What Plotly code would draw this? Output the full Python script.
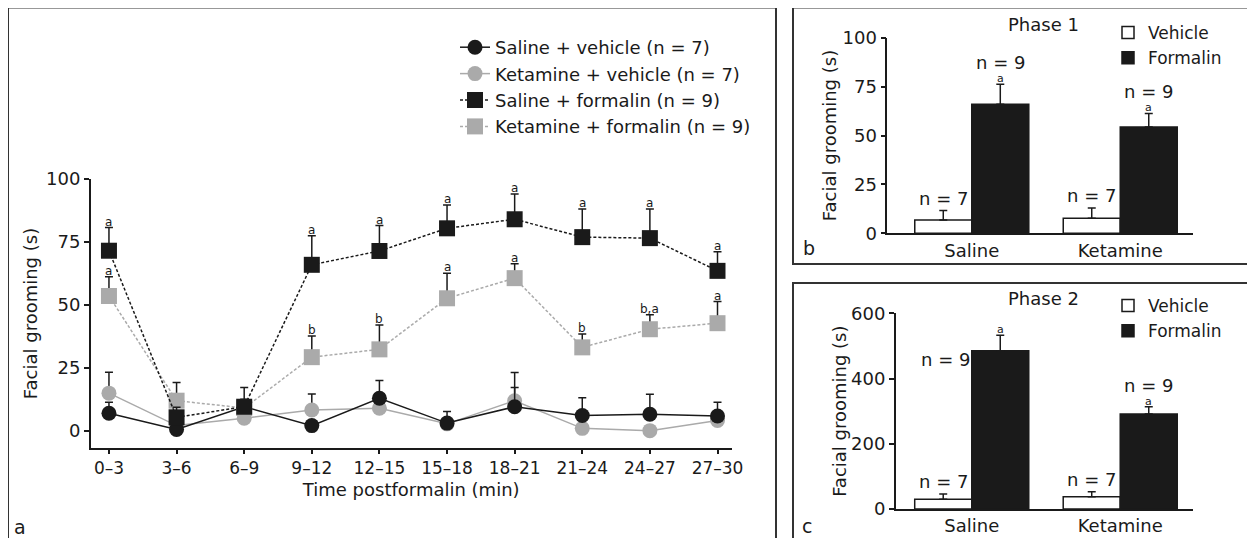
import plotly.graph_objects as go

# ---------------- data ----------------
time_bins = ["0–3", "3–6", "6–9", "9–12", "12–15", "15–18", "18–21", "21–24", "24–27", "27–30"]

saline_vehicle = [6.9, 0.5, 9.5, 2.0, 12.9, 3.0, 9.5, 6.0, 6.5, 5.8]
saline_vehicle_err = [4.4, 1.0, 3.0, 1.5, 7.0, 4.6, 7.6, 7.1, 8.0, 5.5]

ketamine_vehicle = [14.9, 2.0, 4.9, 8.2, 8.9, 2.7, 11.9, 0.9, 0.0, 4.0]
ketamine_vehicle_err = [8.3, 1.0, 1.5, 6.4, 2.0, 1.5, 11.2, 1.0, 1.0, 1.5]

saline_formalin = [71.5, 5.3, 9.5, 65.9, 71.4, 80.4, 84.0, 76.9, 76.5, 63.5]
saline_formalin_err = [9.2, 4.0, 7.6, 11.5, 10.1, 9.3, 10.0, 11.2, 11.6, 7.6]
saline_formalin_sig = ["a", "", "", "a", "a", "a", "a", "a", "a", "a"]

ketamine_formalin = [53.5, 11.9, 9.0, 29.2, 32.3, 52.6, 60.6, 33.1, 40.3, 42.7]
ketamine_formalin_err = [7.7, 7.2, 3.0, 8.4, 9.7, 9.9, 5.7, 5.3, 5.8, 8.6]
ketamine_formalin_sig = ["a", "", "", "b", "b", "a", "a", "b", "b,a", "a"]

groups = ["Saline", "Ketamine"]
phase1_vehicle = [6.8, 7.7]
phase1_vehicle_err = [4.8, 5.2]
phase1_formalin = [66.0, 54.3]
phase1_formalin_err = [10.2, 7.0]
phase2_vehicle = [29.7, 37.7]
phase2_vehicle_err = [16.3, 15.3]
phase2_formalin = [485.0, 291.0]
phase2_formalin_err = [48.0, 22.6]
n_vehicle = ["n = 7", "n = 7"]
n_formalin = ["n = 9", "n = 9"]
phase_sig = ["a", "a"]

# ---------------- style ----------------
FONT = "DejaVu Sans"
INK = "#1a1a1a"
GRAY = "#aaaaaa"
OFFSET = 8            # the page body margin shifts the figure by this much
W, H = 1255 - OFFSET, 538 - OFFSET


def px_x(p):
    return (p - OFFSET) / W


def px_y(p):
    return 1 - (p - OFFSET) / H


def up_err(e):
    return dict(type="data", symmetric=False, array=e, arrayminus=[0] * len(e),
                color=INK, thickness=1.5, width=4)


fig = go.Figure()

# draw order: gray circles, black circles, gray squares, black squares
series = [
    ("Ketamine + vehicle (n = 7)", ketamine_vehicle, ketamine_vehicle_err, GRAY, "circle", "solid", 15, 2),
    ("Saline + vehicle (n = 7)", saline_vehicle, saline_vehicle_err, INK, "circle", "solid", 15, 1),
    ("Ketamine + formalin (n = 9)", ketamine_formalin, ketamine_formalin_err, GRAY, "square", "3px,2px", 16, 4),
    ("Saline + formalin (n = 9)", saline_formalin, saline_formalin_err, INK, "square", "3px,2px", 16, 3),
]
for name, vals, err, col, sym, dash, size, rank in series:
    fig.add_trace(go.Scatter(
        x=time_bins, y=vals, name=name, mode="lines+markers",
        line=dict(color=col, width=1.5, dash=dash),
        marker=dict(symbol=sym, size=size, color=col),
        error_y=up_err(err), cliponaxis=False, legendrank=rank,
        xaxis="x", yaxis="y", legend="legend",
    ))

# bar panels
for xa, ya, lg, veh, veh_e, form, form_e in [
    ("x2", "y2", "legend2", phase1_vehicle, phase1_vehicle_err, phase1_formalin, phase1_formalin_err),
    ("x3", "y3", "legend3", phase2_vehicle, phase2_vehicle_err, phase2_formalin, phase2_formalin_err),
]:
    fig.add_trace(go.Bar(x=groups, y=veh, name="Vehicle", xaxis=xa, yaxis=ya, legend=lg,
                         marker=dict(color="white", line=dict(color=INK, width=1.5)),
                         error_y=up_err(veh_e)))
    fig.add_trace(go.Bar(x=groups, y=form, name="Formalin", xaxis=xa, yaxis=ya, legend=lg,
                         marker=dict(color=INK, line=dict(color=INK, width=1.5)),
                         error_y=up_err(form_e)))

annotations = []
# significance letters on main panel
for sig, vals, err in [(saline_formalin_sig, saline_formalin, saline_formalin_err),
                       (ketamine_formalin_sig, ketamine_formalin, ketamine_formalin_err)]:
    for t, v, e, s in zip(time_bins, vals, err, sig):
        if s:
            annotations.append(dict(x=t, y=v + e, xref="x", yref="y", text=s, showarrow=False,
                                    xanchor="center", yanchor="bottom", yshift=-3,
                                    font=dict(size=12, color=INK)))

# bar annotations
OFF = 0.192
for xa, ya, veh, veh_e, form, form_e, panel in [
    ("x2", "y2", phase1_vehicle, phase1_vehicle_err, phase1_formalin, phase1_formalin_err, "b"),
    ("x3", "y3", phase2_vehicle, phase2_vehicle_err, phase2_formalin, phase2_formalin_err, "c"),
]:
    for i in range(len(groups)):
        annotations.append(dict(x=i - OFF, y=veh[i] + veh_e[i], xref=xa, yref=ya, text=n_vehicle[i],
                                showarrow=False, xanchor="center", yanchor="bottom", yshift=0,
                                font=dict(size=18, color=INK)))
        annotations.append(dict(x=i + OFF, y=form[i] + form_e[i], xref=xa, yref=ya, text=phase_sig[i],
                                showarrow=False, xanchor="center", yanchor="bottom", yshift=-3,
                                font=dict(size=11, color=INK)))
        if panel == "c" and i == 0:
            annotations.append(dict(x=i, y=form[i] - 26, xref=xa, yref=ya, text=n_formalin[i],
                                    showarrow=False, xanchor="right", yanchor="middle",
                                    font=dict(size=18, color=INK)))
        else:
            annotations.append(dict(x=i + OFF, y=form[i] + form_e[i], xref=xa, yref=ya, text=n_formalin[i],
                                    showarrow=False, xanchor="center", yanchor="bottom", yshift=9,
                                    font=dict(size=18, color=INK)))

# titles and panel letters
def paper_text(x, y, text, size):
    return dict(x=px_x(x), y=px_y(y), xref="paper", yref="paper", text=text, showarrow=False,
                xanchor="center", yanchor="middle", font=dict(size=size, color=INK))


annotations += [
    paper_text(1043, 25, "Phase 1", 18),
    paper_text(1043, 298, "Phase 2", 18),
    paper_text(20, 527, "a", 19),
    paper_text(809, 248, "b", 19),
    paper_text(807, 526, "c", 19),
]

frame = dict(color="#333333", width=2)
shapes = [
    dict(type="rect", xref="paper", yref="paper", x0=px_x(8), x1=px_x(776), y0=-0.1, y1=px_y(7.5), line=frame),
    dict(type="rect", xref="paper", yref="paper", x0=px_x(793), x1=1.1, y0=px_y(264), y1=px_y(7.5), line=frame),
    dict(type="rect", xref="paper", yref="paper", x0=px_x(793), x1=1.1, y0=-0.1, y1=px_y(283), line=frame),
]

axis_common = dict(showgrid=False, zeroline=False, showline=True, linecolor=INK, linewidth=1.5,
                   tickcolor=INK, tickwidth=1.5, color=INK)

fig.update_layout(
    template="none",
    width=W, height=H,
    margin=dict(l=0, r=0, t=0, b=0),
    paper_bgcolor="white", plot_bgcolor="white",
    font=dict(family=FONT, color=INK, size=17),
    barmode="group", bargap=0.232, bargroupgap=0,
    xaxis=dict(domain=[px_x(90.7), px_x(731.7)], anchor="y", type="category",
               categoryorder="array", categoryarray=time_bins, range=[-0.27, 9.21],
               ticks="outside", ticklen=4, tickfont=dict(size=17),
               title=dict(text="Time postformalin (min)", font=dict(size=18), standoff=6), **axis_common),
    yaxis=dict(domain=[px_y(448), px_y(179)], anchor="x", range=[-6.9, 100],
               tickvals=[0, 25, 50, 75, 100], ticks="outside", ticklen=5, tickfont=dict(size=18),
               title=dict(text="Facial grooming (s)", font=dict(size=18), standoff=4), **axis_common),
    xaxis2=dict(domain=[px_x(887.3), px_x(1193)], anchor="y2", type="category",
                categoryorder="array", categoryarray=groups, range=[-0.569, 1.49],
                ticks="", tickfont=dict(size=18), **axis_common),
    yaxis2=dict(domain=[px_y(233.3), px_y(37.7)], anchor="x2", range=[0, 100],
                tickvals=[0, 25, 50, 75, 100], ticks="outside", ticklen=5, tickfont=dict(size=18),
                title=dict(text="Facial grooming (s)", font=dict(size=18), standoff=1), **axis_common),
    xaxis3=dict(domain=[px_x(895.7), px_x(1193)], anchor="y3", type="category",
                categoryorder="array", categoryarray=groups, range=[-0.512, 1.49],
                ticks="", tickfont=dict(size=18), **axis_common),
    yaxis3=dict(domain=[px_y(509), px_y(313.3)], anchor="x3", range=[0, 600],
                tickvals=[0, 200, 400, 600], ticks="outside", ticklen=5, tickfont=dict(size=18),
                title=dict(text="Facial grooming (s)", font=dict(size=18), standoff=0), **axis_common),
    legend=dict(x=px_x(455), y=px_y(29), xanchor="left", yanchor="top", bgcolor="rgba(0,0,0,0)",
                font=dict(size=18, color=INK), itemwidth=30, tracegroupgap=0),
    legend2=dict(x=px_x(1108), y=px_y(15), xanchor="left", yanchor="top", bgcolor="rgba(0,0,0,0)",
                 font=dict(size=17, color=INK), itemwidth=30, tracegroupgap=0),
    legend3=dict(x=px_x(1108), y=px_y(288), xanchor="left", yanchor="top", bgcolor="rgba(0,0,0,0)",
                 font=dict(size=17, color=INK), itemwidth=30, tracegroupgap=0),
    annotations=annotations,
    shapes=shapes,
)

fig.write_html("out.html")
